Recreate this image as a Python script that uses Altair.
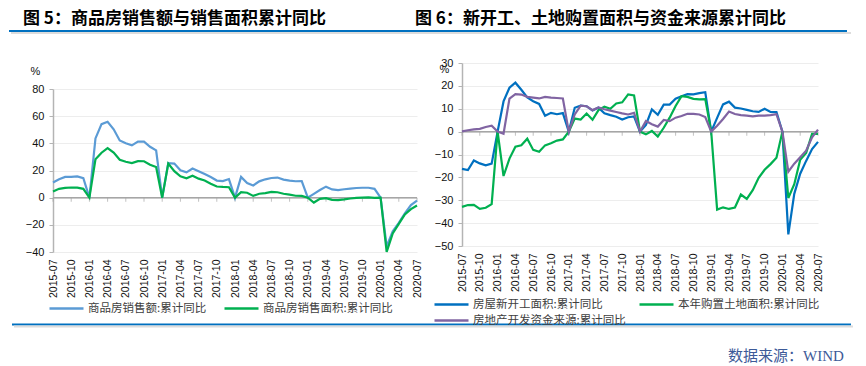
import altair as alt
import pandas as pd

# ---------------- categories ----------------
months = []
for yr in range(2015, 2021):
    for mo in range(1, 13):
        s = f"{yr}-{mo:02d}"
        if "2015-07" <= s <= "2020-07":
            months.append(s)
tick_labels = months[::3]

left_names = ["商品房销售额:累计同比", "商品房销售面积:累计同比"]
left_colors = ["#5B9BD5", "#00B050"]
right_names = ["房屋新开工面积:累计同比", "本年购置土地面积:累计同比", "房地产开发资金来源:累计同比"]
right_colors = ["#0070C0", "#00B050", "#8064A2"]

# ---------------- series values (%) ----------------
sales_amount = [
    11.2, 13.6, 15.3, 15.3, 15.6, 14.4,
    0, 43.6, 54.1, 55.9, 50.3, 42.1, 40.0, 38.5, 41.3, 41.2, 37.5, 34.8,
    0, 25.4, 25.1, 20.2, 18.6, 21.5, 19.5, 17.4, 15.2, 12.6, 12.2, 13.7,
    0, 15.3, 10.8, 9.0, 12.0, 13.5, 14.5, 14.8, 13.3, 12.5, 12.1, 12.2,
    0, 2.8, 5.6, 8.1, 6.1, 5.6, 6.2, 6.7, 7.1, 7.3, 7.3, 6.5,
    0, -35.9, -24.7, -18.6, -11.6, -5.4, -2.1]
sales_area = [
    4.6, 6.5, 7.2, 7.5, 7.4, 6.5,
    0, 28.2, 33.1, 36.5, 33.2, 27.9, 26.4, 25.5, 26.9, 26.8, 24.3, 22.5,
    0, 25.1, 19.5, 15.7, 14.3, 16.1, 14.0, 12.7, 10.3, 8.2, 7.9, 7.7,
    0, 4.1, 3.6, 1.3, 2.9, 3.3, 4.2, 4.0, 2.9, 2.2, 1.4, 1.3,
    0, -3.6, -0.9, -0.3, -1.6, -1.8, -1.3, -0.6, -0.1, 0.1, 0.2, -0.1,
    0, -39.9, -26.3, -19.3, -12.3, -8.4, -5.8]

new_starts = [
    -16.3, -16.8, -12.6, -13.9, -14.7, -14.0,
    0, 13.2, 19.2, 21.4, 18.3, 14.9, 13.3, 12.1, 6.9, 8.2, 7.6, 8.1,
    0, 10.4, 11.4, 11.1, 9.2, 10.5, 8.0, 7.2, 6.5, 5.3, 6.3, 6.6,
    0, 2.9, 9.7, 7.4, 11.8, 11.8, 14.4, 15.5, 16.4, 16.3, 16.8, 17.2,
    0, 6.0, 11.9, 13.1, 10.5, 10.1, 9.5, 8.9, 8.6, 10.0, 8.6, 8.5,
    0, -44.9, -27.2, -18.4, -12.8, -7.6, -4.5]
land_purchase = [
    -32.9, -32.1, -32.0, -33.8, -33.3, -31.7,
    0, -19.4, -11.8, -6.6, -6.0, -3.1, -8.0, -8.8, -6.0, -5.1, -3.9, -3.4,
    0, 5.7, 5.3, 7.9, 5.2, 9.4, 10.9, 10.0, 12.3, 12.8, 16.3, 15.8,
    0, -1.2, 0.3, -2.2, 1.7, 6.1, 11.2, 15.5, 15.2, 14.3, 14.1, 14.2,
    0, -34.1, -33.1, -33.8, -33.2, -27.5, -29.4, -25.6, -20.2, -16.7, -14.2, -11.4,
    0, -29.0, -23.0, -12.3, -9.3, -1.0, -1.0]
funds = [
    0.1, 0.6, 1.0, 1.2, 2.0, 2.6,
    0, -0.9, 14.4, 16.4, 16.2, 15.2, 14.9, 14.5, 15.2, 14.9, 14.7, 14.5,
    0, 7.5, 11.4, 11.1, 9.4, 10.6, 9.8, 9.2, 8.6, 8.0, 7.5, 8.2,
    0, 4.6, 3.2, 2.2, 5.1, 4.6, 6.1, 6.8, 7.8, 7.8, 7.5, 6.4,
    0, 2.6, 5.5, 8.8, 7.7, 7.2, 7.0, 6.7, 7.0, 7.0, 7.2, 7.6,
    0, -17.5, -14.0, -11.2, -8.3, -2.5, 0.9]

left_ticks = [-40, -20, 0, 20, 40, 60, 80]
right_ticks = [-50, -40, -30, -20, -10, 0, 10, 20, 30]


def long_df(names, series):
    rows = []
    for n, vals in zip(names, series):
        for m, v in zip(months, vals):
            rows.append({"month": m, "series": n, "value": v})
    return pd.DataFrame(rows)


FONT = "Liberation Sans, Arial, sans-serif"
CJK = "Noto Sans CJK SC"
one = pd.DataFrame({"k": [0]})


def make_legend(lx, ly, col_pad):
    return alt.Legend(orient="none", legendX=lx, legendY=ly, direction="horizontal",
                      columns=2, title=None, symbolType="stroke", symbolSize=1156,
                      symbolStrokeWidth=2.5, labelFont=CJK, labelFontSize=11.5,
                      labelColor="#404040", labelOffset=3, columnPadding=col_pad, rowPadding=0)


def make_panel(groups, W, H, ydom, yrng, yvals, pct_xy, extra):
    x_enc = alt.X("month:O",
                  scale=alt.Scale(type="point", domain=months, padding=0),
                  axis=alt.Axis(values=tick_labels, labelAngle=-90, ticks=False, domain=False,
                                grid=False, title=None, labelPadding=7, labelFont=FONT,
                                labelFontSize=10.5, labelColor="#111111"))
    y_enc = alt.Y("value:Q",
                  scale=alt.Scale(domain=ydom, range=yrng, nice=False, zero=False),
                  axis=alt.Axis(values=yvals, grid=True, gridColor="#EDEDED", gridWidth=1,
                                domainColor="#B4B4B4", domainWidth=1.5, tickColor="#B4B4B4",
                                tickSize=4, tickWidth=1, labelPadding=5, labelFont=FONT,
                                labelFontSize=11, labelColor="#111111",
                                title="%", titleAngle=0, titleX=pct_xy[0], titleY=pct_xy[1],
                                titleAlign="center", titleBaseline="middle", titleFont=FONT,
                                titleFontSize=11, titleFontWeight="normal", titleColor="#111111"))
    zero = alt.Chart(pd.DataFrame({"value": [0]})).mark_rule(
        color="#A6A6A6", strokeWidth=1.5).encode(y=y_enc)
    ticks = alt.Chart(pd.DataFrame({"month": tick_labels, "value": [0] * len(tick_labels)})).mark_tick(
        orient="vertical", size=4, thickness=1, color="#A6A6A6", yOffset=2).encode(x=x_enc, y=y_enc)
    layers = [zero, ticks]
    for df, names, colors, channel, lx, ly, cp in groups:
        ch = alt.Color if channel == "color" else alt.Stroke
        enc = ch("series:N", sort=names, scale=alt.Scale(domain=names, range=colors),
                 legend=make_legend(lx, ly, cp))
        layers.append(alt.Chart(df).mark_line(strokeWidth=2.2).encode(x=x_enc, y=y_enc, **{channel: enc}))
    return alt.layer(*layers, *extra).properties(width=W, height=H)


def rule(x1, x2, y, color, w=2):
    return alt.Chart(one).mark_rule(color=color, strokeWidth=w).encode(
        x=alt.value(x1), x2=alt.value(x2), y=alt.value(y))


def label(x, y, txt, **kw):
    return alt.Chart(one).mark_text(**kw).encode(
        x=alt.value(x), y=alt.value(y), text=alt.value(txt))


left_extra = [
    rule(-44, 794, -32, "#0070C0"),
    rule(-42, 798, -30, "#DCDCDC"),
    rule(-41, 798, 261.5, "#0070C0"),
    rule(-39, 800, 263.5, "#DCDCDC"),
    label(-30, -52, "图 5：商品房销售额与销售面积累计同比", align="left", baseline="top",
          font=CJK, fontSize=17, fontWeight="bold", color="#000000"),
    label(675, 293, "数据来源：WIND", align="left", baseline="middle",
          font="Liberation Serif, Noto Sans CJK SC", fontSize=15, color="#3D5A98"),
]
right_extra = [
    label(-47, -52, "图 6：新开工、土地购置面积与资金来源累计同比", align="left", baseline="top",
          font=CJK, fontSize=17, fontWeight="bold", color="#000000"),
]

left_groups = [
    (long_df(left_names, [sales_amount, sales_area]), left_names, left_colors, "color", -5, 227, 12),
]
right_groups = [
    (long_df(right_names[:2], [new_starts, land_purchase]), right_names[:2], right_colors[:2],
     "color", -29, 223, 31),
    (long_df(right_names[2:], [funds]), right_names[2:], right_colors[2:], "stroke", -29, 239, 5),
]

left = make_panel(left_groups, 364, 189, [-40, 80], [189, 26], left_ticks, (-18, 8), left_extra)
right = make_panel(right_groups, 356, 183, [-50, 30], [183, 0], right_ticks, (-18, 6), right_extra)

chart = alt.hconcat(left, right, spacing=45, bounds="flush").resolve_scale(
    x="independent", y="independent", color="independent", stroke="independent"
).properties(padding={"top": 2, "left": 0, "right": 0, "bottom": 0}).configure_view(stroke=None)

chart.save("out.html", embed_options={"renderer": "svg", "actions": False})
